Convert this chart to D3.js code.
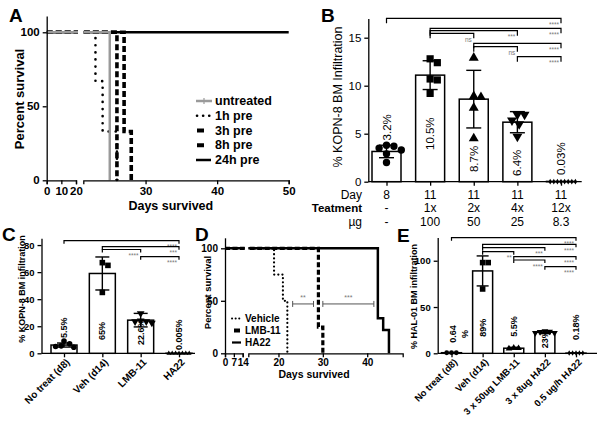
<!DOCTYPE html>
<html>
<head>
<meta charset="utf-8">
<script src="https://cdn.jsdelivr.net/npm/d3@7"></script>
<style>
  body { margin: 0; background: #fff; }
</style>
</head>
<body>
<div id="container"></div>
<script>
// ---------- data ----------
// A: survival curves, steps as [day, percent surviving]
const aNames = ["untreated", "1h pre", "3h pre", "8h pre", "24h pre"];
const aUntreated = [[0, 100], [25, 0]];
const a1hPre = [[0, 100], [23, 67], [24, 33], [26, 0]];
const a3hPre = [[0, 100], [26, 0]];
const a8hPre = [[0, 100], [27, 33], [28, 0]];
const a24hPre = [[0, 100], [50, 100]];
const aTicksLow = [0, 10, 20];
const aTicksHigh = [30, 40, 50];

// B: KOPN-8 infiltration by schedule
const bDay = ["8", "11", "11", "11", "11"];
const bTreatment = ["-", "1x", "2x", "4x", "12x"];
const bDose = ["-", "100", "50", "25", "8.3"];
const bMeans = [3.15, 11.1, 8.6, 6.2, 0.03];
const bSD = [0.65, 1.5, 3.0, 1.1, 0];
const bPoints = [
  [3.7, 3.3, 3.8, 3.5, 2.9, 2.0],
  [12.4, 12.8, 10.7, 10.6, 9.2],
  [12.9, 8.9, 8.8, 7.7, 4.5],
  [7.0, 7.0, 6.4, 6.0, 4.7],
  [0, 0, 0, 0, 0, 0, 0, 0]
];
const bLabels = ["3.2%", "10.5%", "8.7%", "6.4%", "0.03%"];
const bTests = [[0, 4, "****"], [1, 4, "****"], [1, 3, "***"], [1, 2, "ns"], [2, 4, "****"], [2, 3, "ns"], [3, 4, "****"]];

// C: KOPN-8 infiltration
const cCats = ["No treat (d8)", "Veh (d14)", "LMB-11", "HA22"];
const cMeans = [6.1, 59, 24.5, 0.005];
const cSD = [1.5, 12.2, 5, 0];
const cPoints = [
  [9, 5, 4.5, 5.5, 7],
  [67, 65, 45],
  [29.5, 23.5, 22.5, 23.5, 24],
  [0, 0, 0, 0, 0, 0, 0]
];
const cLabels = ["5.5%", "65%", "22.6%", "0.005%"];
const cTests = [[0, 3, "****"], [1, 3, "***"], [1, 2, "****"], [2, 3, "****"]];

// D: survival
const dNames = ["Vehicle", "LMB-11", "HA22"];
const dVehicle = [[0, 100], [19, 75], [21, 50], [22, 0]];
const dLMB11 = [[0, 100], [29, 25], [30, 0]];
const dHA22 = [[0, 100], [42.4, 33.3], [43.6, 22.2], [44.9, 0]];
const dTicksLow = [0, 7, 14];
const dTicksHigh = [20, 30, 40];
const dTests = [[23.2, 27.9, "**"], [30, 41.5, "***"]];

// E: HAL-01 infiltration
const eCats = ["No treat (d8)", "Veh (d14)", "3 x 50ug LMB-11", "3 x 8ug HA22", "0.5 ug/h HA22"];
const eMeans = [0.64, 89, 5.5, 22.7, 0.18];
const eSD = [0.2, 16.2, 1, 1.5, 0.1];
const ePoints = [
  [0.6, 0.7, 0.6],
  [98, 98, 69.5],
  [5, 6, 5.5],
  [22, 23, 24, 22, 23.5],
  [0.2, 0.2, 0.2, 0.2, 0.2]
];
const eLabels = ["0.64\n%", "89%", "5.5%", "23%", "0.18%"];
const eTests = [[0, 4, "****"], [1, 4, "****"], [1, 3, "***"], [1, 2, "**"], [2, 4, "****"], [2, 3, "****"], [3, 4, "****"]];

// ---------- layout ----------
const FONT = "Arial, 'Liberation Sans', sans-serif";
const W = 601, H = 425;

const svg = d3.select("#container").append("svg")
  .attr("width", W).attr("height", H)
  .style("font-family", FONT);
svg.append("rect").attr("width", W).attr("height", H).attr("fill", "#fff");
const defs = svg.append("defs");

function styleAxis(sel, size, weight) {
  sel.attr("font-family", FONT).attr("font-size", size).attr("font-weight", weight);
  sel.selectAll("path, line").attr("stroke", "#000").attr("stroke-width", 1.3);
  sel.selectAll("text").attr("fill", "#000");
}

function addText(x, y, str, size, weight, anchor, rot) {
  const t = svg.append("text")
    .attr("x", x).attr("y", y)
    .attr("font-size", size).attr("font-weight", weight || "normal")
    .attr("text-anchor", anchor || "start")
    .text(str);
  if (rot) t.attr("transform", `rotate(${rot},${x},${y})`);
  return t;
}

function symbolPath(type, r) {
  if (type === "circle") return d3.symbol(d3.symbolCircle, Math.PI * r * r)();
  if (type === "square") return d3.symbol(d3.symbolSquare, 4 * r * r)();
  if (type === "diamond") return d3.symbol(d3.symbolDiamond, 3 * r * r)();
  return d3.symbol(d3.symbolTriangle, 3.3 * r * r)();
}

// simple swarm so dots with similar values sit side by side
function swarm(vals, y, r) {
  const pts = vals.map(v => ({ v: v, y: y(v), dx: 0 }));
  const placed = [];
  pts.slice().sort((a, b) => a.y - b.y).forEach(p => {
    for (let k = 0; k < 60; k++) {
      const off = (k === 0 ? 0 : (k % 2 ? 1 : -1) * Math.ceil(k / 2)) * r * 0.5;
      if (placed.every(q => Math.hypot(q.dx - off, q.y - p.y) >= 2 * r * 0.95)) { p.dx = off; break; }
    }
    placed.push(p);
  });
  return pts;
}

function barPanel(cfg) {
  const g = svg.append("g");
  const x = cfg.x, y = cfg.y;

  // y axis
  g.append("g").attr("transform", `translate(${cfg.axisX},0)`)
    .call(d3.axisLeft(y).tickValues(cfg.yTicks).tickSize(4).tickSizeOuter(0))
    .call(styleAxis, cfg.tickFont, cfg.tickWeight);
  // x axis
  g.append("line").attr("x1", cfg.axisX).attr("x2", cfg.axisEnd)
    .attr("y1", y(0)).attr("y2", y(0)).attr("stroke", "#000").attr("stroke-width", 1.3);
  const xa = g.append("g").attr("transform", `translate(0,${y(0)})`)
    .call(d3.axisBottom(x).tickSize(4).tickFormat(""));
  xa.select(".domain").remove();
  xa.call(styleAxis, 10, "normal");

  // bars
  g.selectAll(".bar").data(cfg.means).join("rect")
    .attr("x", (d, i) => x(i) - cfg.barW / 2)
    .attr("y", d => y(d))
    .attr("width", cfg.barW)
    .attr("height", d => y(0) - y(d))
    .attr("fill", "#fff").attr("stroke", "#000").attr("stroke-width", 1.5);

  // points
  cfg.points.forEach((vals, i) => {
    const r = cfg.pointR[i];
    const type = cfg.symbols[i];
    swarm(vals, y, r).forEach(p => {
      g.append("path").attr("d", symbolPath(type, r))
        .attr("transform", `translate(${x(i) + p.dx},${p.y})` + (type === "triangleDown" ? " rotate(180)" : ""))
        .attr("fill", "#000");
    });
  });

  // error bars
  cfg.means.forEach((m, i) => {
    const sd = cfg.sd[i];
    if (!sd) return;
    const cx = x(i), hw = cfg.capW / 2;
    g.append("line").attr("x1", cx).attr("x2", cx).attr("y1", y(m + sd)).attr("y2", y(Math.max(0, m - sd)))
      .attr("stroke", "#000").attr("stroke-width", 1.4);
    [m + sd, m - sd].forEach(v => {
      if (v < 0) return;
      g.append("line").attr("x1", cx - hw).attr("x2", cx + hw).attr("y1", y(v)).attr("y2", y(v))
        .attr("stroke", "#000").attr("stroke-width", 1.4);
    });
  });

  // value labels, rotated (a wrapped label becomes one column per line)
  cfg.labels.forEach((lab, i) => {
    const lines = lab.split("\n");
    const py = y(cfg.labelAt[i]);
    lines.forEach((ln, k) => {
      const px = x(i) + (cfg.labelDx ? cfg.labelDx[i] : 0) + k * cfg.labelFont * 1.3;
      g.append("text")
        .attr("transform", `translate(${px},${py}) rotate(-90)`)
        .attr("font-size", cfg.labelFont).attr("font-weight", cfg.labelWeight)
        .attr("text-anchor", lines.length > 1 ? "middle" : "start")
        .attr("dominant-baseline", "central")
        .text(ln);
    });
  });

  // significance brackets
  cfg.tests.forEach((t, k) => {
    const x1 = x(t[0]), x2 = x(t[1]), yy = cfg.testY[k], tk = cfg.testTick;
    g.append("path").attr("d", `M${x1},${yy + tk}V${yy}H${x2}V${yy + tk}`)
      .attr("fill", "none").attr("stroke", "#000").attr("stroke-width", 1.2);
    g.append("text").attr("x", x2 - 2).attr("y", yy + 6)
      .attr("font-size", 6.5).attr("fill", "#777").attr("text-anchor", "end")
      .attr("dominant-baseline", "central").text(t[2]);
  });

  // category labels
  if (cfg.cats) {
    cfg.cats.forEach((c, i) => {
      g.append("text")
        .attr("transform", `translate(${x(i) + 4},${y(0) + 7}) rotate(-45)`)
        .attr("font-size", cfg.catFont).attr("font-weight", "bold")
        .attr("text-anchor", "end").attr("dominant-baseline", "central")
        .text(c);
    });
  }
  return g;
}

function survivalPanel(cfg) {
  const g = svg.append("g");
  const y = cfg.y;
  cfg.segs.forEach((s, k) => {
    const id = cfg.id + k;
    const r = s.scale.range();
    defs.append("clipPath").attr("id", id).append("rect")
      .attr("x", r[0]).attr("y", y.range()[1] - 5)
      .attr("width", r[1] - r[0] + 2).attr("height", y.range()[0] - y.range()[1] + 8);
    const gl = g.append("g").attr("clip-path", `url(#${id})`);
    cfg.series.forEach(ser => {
      const line = d3.line().x(d => s.scale(d[0])).y(d => y(d[1])).curve(d3.curveStepAfter);
      gl.append("path").attr("d", line(ser.data))
        .attr("fill", "none").attr("stroke", ser.stroke).attr("stroke-width", ser.width)
        .attr("stroke-dasharray", ser.dash || null)
        .attr("stroke-linecap", ser.cap || "butt");
    });
    g.append("g").attr("transform", `translate(0,${y(0)})`)
      .call(d3.axisBottom(s.scale).tickValues(s.ticks).tickSize(4).tickSizeOuter(4).tickPadding(cfg.tickPad))
      .call(styleAxis, cfg.tickFont, "bold");
  });
  g.append("g").attr("transform", `translate(${cfg.segs[0].scale.range()[0]},0)`)
    .call(d3.axisLeft(y).tickValues([0, 50, 100]).tickSize(4).tickSizeOuter(0))
    .call(styleAxis, cfg.tickFont, "bold");
  return g;
}

function legend(items, x0, y0, dy, size) {
  items.forEach((it, i) => {
    const yy = y0 + i * dy;
    svg.append("line").attr("x1", x0 + it.sym[0]).attr("x2", x0 + it.sym[1]).attr("y1", yy).attr("y2", yy)
      .attr("stroke", it.stroke).attr("stroke-width", it.width)
      .attr("stroke-dasharray", it.dash || null).attr("stroke-linecap", it.cap || "butt");
    if (it.tick) {
      svg.append("line").attr("x1", x0 + 8).attr("x2", x0 + 8).attr("y1", yy - 3).attr("y2", yy + 3)
        .attr("stroke", it.stroke).attr("stroke-width", 1.2);
    }
    svg.append("text").attr("x", x0 + it.tx).attr("y", yy).attr("dominant-baseline", "central")
      .attr("font-size", size).attr("font-weight", "bold").text(it.name);
  });
}

// ---------- Panel A ----------
const aY = d3.scaleLinear().domain([0, 111]).range([180.3, 16]);
const aStyle = [
  { data: aUntreated, stroke: "#9a9a9a", width: 2.5 },
  { data: a1hPre, stroke: "#000", width: 2.6, dash: "0.1,7", cap: "round" },
  { data: a3hPre, stroke: "#000", width: 3.6, dash: "6,3" },
  { data: a8hPre, stroke: "#000", width: 3.6, dash: "6,3" },
  { data: a24hPre, stroke: "#000", width: 2.5 }
];
survivalPanel({
  id: "clipA",
  y: aY,
  segs: [
    { scale: d3.scaleLinear().domain([0, 20]).range([46.7, 76]), ticks: aTicksLow },
    { scale: d3.scaleLinear().domain([21.3, 50]).range([83.3, 288.7]), ticks: aTicksHigh }
  ],
  series: aStyle.slice().reverse(),
  tickFont: 11.5, tickPad: 3
});
legend([
  { name: aNames[0], stroke: "#9a9a9a", width: 2.5, sym: [0, 16], tx: 19, tick: true },
  { name: aNames[1], stroke: "#000", width: 2.6, dash: "0.1,6", cap: "round", sym: [1, 14], tx: 19 },
  { name: aNames[2], stroke: "#000", width: 4, sym: [1, 8], tx: 19 },
  { name: aNames[3], stroke: "#000", width: 4, sym: [1, 8], tx: 19 },
  { name: aNames[4], stroke: "#000", width: 2.5, sym: [0, 15], tx: 19 }
], 196, 101, 14.75, 12.5);
addText(170.8, 210, "Days survived", 12.5, "bold", "middle");
addText(19, 99, "Percent survival", 13, "bold", "middle", -90).attr("dominant-baseline", "central");
addText(9, 22, "A", 19, "bold");

// ---------- Panel B ----------
const bX = d3.scalePoint().domain(d3.range(bMeans.length)).range([386.5, 561]);
const bY = d3.scaleLinear().domain([0, 17]).range([181.7, 18.5]);
barPanel({
  x: bX, y: bY, axisX: 368.3, axisEnd: 581.7,
  yTicks: [0, 5, 10, 15], tickFont: 11.5, tickWeight: "normal",
  means: bMeans, sd: bSD, points: bPoints,
  symbols: ["circle", "square", "triangle", "triangleDown", "diamond"],
  pointR: [3.7, 3.6, 3.6, 3.6, 1.8],
  barW: 29, capW: 15,
  labels: bLabels, labelAt: [4.3, 3.3, 1.0, 0.6, 0.7], labelFont: 11.5, labelWeight: "normal",
  tests: bTests, testY: [18.3, 28.3, 30.7, 33.3, 43.3, 46.7, 56.7], testTick: 5
});
[["Day", bDay, 194.5, "normal", 12], ["Teatment", bTreatment, 207.5, "bold", 11.5], ["µg", bDose, 221.7, "normal", 12]]
  .forEach(row => {
    addText(362, row[2], row[0], row[4], row[3], "end").attr("dominant-baseline", "central");
    row[1].forEach((v, i) => addText(bX(i), row[2], v, 12, "normal", "middle").attr("dominant-baseline", "central"));
  });
addText(337.5, 97, "% KOPN-8 BM Infiltration", 12.5, "normal", "middle", -90).attr("dominant-baseline", "central");
addText(321, 22, "B", 19, "bold");

// ---------- Panel C ----------
const cX = d3.scalePoint().domain(d3.range(cMeans.length)).range([64, 179]);
const cY = d3.scaleLinear().domain([0, 85]).range([353.3, 238.3]);
barPanel({
  x: cX, y: cY, axisX: 41.5, axisEnd: 195,
  yTicks: [0, 20, 40, 60, 80], tickFont: 9.5, tickWeight: "bold",
  means: cMeans, sd: cSD, points: cPoints,
  symbols: ["circle", "square", "triangleDown", "triangle"],
  pointR: [2.8, 2.8, 2.8, 1.7],
  barW: 26, capW: 14,
  labels: cLabels, labelAt: [11.3, 9.8, 6.1, 2.4], labelFont: 9, labelWeight: "bold",
  tests: cTests, testY: [240.7, 246.7, 249.5, 256.7], testTick: 3,
  cats: cCats, catFont: 10
});
addText(22, 289, "% KOPN-8 BM infiltration", 9, "bold", "middle", -90).attr("dominant-baseline", "central");
addText(2, 241, "C", 19, "bold");

// ---------- Panel D ----------
const dY = d3.scaleLinear().domain([0, 110]).range([353.3, 237.8]);
const dX2 = d3.scaleLinear().domain([13.2, 48]).range([248.3, 402.7]);
survivalPanel({
  id: "clipD",
  y: dY,
  segs: [
    { scale: d3.scaleLinear().domain([0, 14]).range([225, 242.7]), ticks: dTicksLow },
    { scale: dX2, ticks: dTicksHigh }
  ],
  series: [
    { data: dHA22, stroke: "#000", width: 2.5 },
    { data: dLMB11, stroke: "#000", width: 3.2, dash: "5,2.5" },
    { data: dVehicle, stroke: "#000", width: 2.2, dash: "0.1,4", cap: "round" }
  ],
  tickFont: 10, tickPad: 1.5
});
dTests.forEach(t => {
  const yy = dY(47), x1 = dX2(t[0]), x2 = dX2(t[1]);
  svg.append("path").attr("d", `M${x1},${yy - 3}V${yy + 3}M${x1},${yy}H${x2}M${x2},${yy - 3}V${yy + 3}`)
    .attr("stroke", "#555").attr("stroke-width", 1).attr("fill", "none");
  svg.append("text").attr("x", (x1 + x2) / 2).attr("y", yy - 4).attr("text-anchor", "middle")
    .attr("font-size", 7).attr("fill", "#777").text(t[2]);
});
legend([
  { name: dNames[0], stroke: "#000", width: 2, dash: "0.1,3.5", cap: "round", sym: [0, 8], tx: 13 },
  { name: dNames[1], stroke: "#000", width: 4, sym: [2, 8], tx: 13 },
  { name: dNames[2], stroke: "#000", width: 2.2, sym: [0, 9], tx: 13 }
], 232, 318.5, 12, 10);
addText(314, 377.5, "Days survived", 10.5, "bold", "middle");
addText(207.5, 292.5, "Percent survival", 9.5, "bold", "middle", -90).attr("dominant-baseline", "central");
addText(195, 241, "D", 19, "bold");

// ---------- Panel E ----------
const eX = d3.scalePoint().domain(d3.range(eMeans.length)).range([451.5, 576]);
const eY = d3.scaleLinear().domain([0, 125]).range([353.3, 237.6]);
barPanel({
  x: eX, y: eY, axisX: 437.7, axisEnd: 597,
  yTicks: [0, 50, 100], tickFont: 9.5, tickWeight: "bold",
  means: eMeans, sd: eSD, points: ePoints,
  symbols: ["circle", "square", "triangle", "triangleDown", "diamond"],
  pointR: [2.4, 2.8, 2.4, 2.4, 1.7],
  barW: 20, capW: 12,
  labels: eLabels, labelAt: [20.8, 18, 18, 5.4, 14.4], labelDx: [1.5, 0, 0, 0, 0],
  labelFont: 9, labelWeight: "bold",
  tests: eTests, testY: [237.7, 244.3, 247.7, 251.7, 256.7, 260, 266.7], testTick: 3,
  cats: eCats, catFont: 9.5
});
addText(414, 296.5, "% HAL-01 BM infiltration", 9, "bold", "middle", -90).attr("dominant-baseline", "central");
addText(397, 242, "E", 19, "bold");
</script>
</body>
</html>
